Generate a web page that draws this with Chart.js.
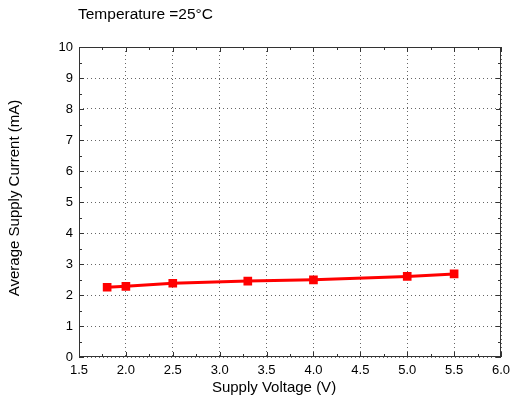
<!DOCTYPE html>
<html>
<head>
<meta charset="utf-8">
<script src="https://cdn.jsdelivr.net/npm/chart.js@4/dist/chart.umd.min.js"></script>
<style>
  html, body { margin: 0; padding: 0; background: #fff; }
  #wrap { width: 510px; height: 401px; }
</style>
</head>
<body>
<div id="wrap"><canvas id="myChart" width="510" height="401"></canvas></div>
<script>
// supply voltage (V) and average current (mA)
var voltages = [1.8, 2.0, 2.5, 3.3, 4.0, 5.0, 5.5];
var currents = [2.25, 2.28, 2.38, 2.45, 2.49, 2.60, 2.68];

var xTicks = [1.5, 2.0, 2.5, 3.0, 3.5, 4.0, 4.5, 5.0, 5.5, 6.0];
var yTicks = [0, 1, 2, 3, 4, 5, 6, 7, 8, 9, 10];

var titleText = 'Temperature =25\u00B0C';
var xTitle = 'Supply Voltage (V)';
var yTitle = 'Average Supply Current (mA)';

var font = 'Arial, "Liberation Sans", sans-serif';

// frame with inward major/minor ticks plus the text labels
var framePlugin = {
    id: 'frame',
    afterDatasetsDraw: function(chart) {
        var ctx = chart.ctx;
        var a = chart.chartArea;
        var xs = chart.scales.x, ys = chart.scales.y;
        ctx.save();
        ctx.strokeStyle = '#333';
        ctx.lineWidth = 1;
        ctx.strokeRect(a.left + 0.5, a.top + 0.5, a.right - a.left - 1, a.bottom - a.top - 1);
        ctx.beginPath();
        for (var i = 0; i < xTicks.length; i++) {
            var px = Math.round(xs.getPixelForValue(xTicks[i])) + 0.5;
            ctx.moveTo(px, a.bottom); ctx.lineTo(px, a.bottom - 5);
            ctx.moveTo(px, a.top); ctx.lineTo(px, a.top + 5);
            if (i < xTicks.length - 1) {
                var mx = Math.round(xs.getPixelForValue((xTicks[i] + xTicks[i + 1]) / 2)) + 0.5;
                ctx.moveTo(mx, a.bottom); ctx.lineTo(mx, a.bottom - 3);
                ctx.moveTo(mx, a.top); ctx.lineTo(mx, a.top + 3);
            }
        }
        for (var j = 0; j < yTicks.length; j++) {
            var py = Math.round(ys.getPixelForValue(yTicks[j])) + 0.5;
            ctx.moveTo(a.left, py); ctx.lineTo(a.left + 5, py);
            ctx.moveTo(a.right, py); ctx.lineTo(a.right - 5, py);
            if (j < yTicks.length - 1) {
                var my = Math.round(ys.getPixelForValue((yTicks[j] + yTicks[j + 1]) / 2)) + 0.5;
                ctx.moveTo(a.left, my); ctx.lineTo(a.left + 3, my);
                ctx.moveTo(a.right, my); ctx.lineTo(a.right - 3, my);
            }
        }
        ctx.stroke();

        ctx.fillStyle = '#000';
        ctx.textBaseline = 'middle';
        ctx.textAlign = 'left';
        ctx.font = '15.5px ' + font;
        ctx.fillText(titleText, 78, 15);
        ctx.font = '15px ' + font;
        ctx.textAlign = 'center';
        ctx.fillText(xTitle, 274, 388);
        ctx.translate(15, 198);
        ctx.rotate(-Math.PI / 2);
        ctx.fillText(yTitle, 0, 0);
        ctx.restore();
    }
};

var ctx = document.getElementById('myChart');
var myChart = new Chart(ctx, {
    type: 'line',
    data: {
        datasets: [{
            label: 'Current',
            data: voltages.map(function(v, i) { return { x: v, y: currents[i] }; }),
            borderColor: '#ff0000',
            backgroundColor: '#ff0000',
            borderWidth: 3,
            pointStyle: 'rect',
            pointRadius: 4,
            pointHoverRadius: 4,
            tension: 0
        }]
    },
    options: {
        responsive: false,
        animation: false,
        layout: { padding: { left: 59, right: 9, top: 47, bottom: 20 } },
        plugins: { legend: { display: false }, title: { display: false }, tooltip: { enabled: false } },
        scales: {
            x: {
                type: 'linear',
                min: 1.5, max: 6.0,
                afterBuildTicks: function(s) { s.ticks = xTicks.map(function(v) { return { value: v }; }); },
                afterFit: function(s) { s.height = 24; s.paddingRight = 0; s.paddingLeft = 0; },
                ticks: {
                    padding: 6,
                    color: '#000',
                    font: { size: 13, family: font },
                    maxRotation: 0,
                    callback: function(v) { return v.toFixed(1); }
                },
                grid: { color: '#666', drawTicks: false, lineWidth: 1 },
                border: { display: false, dash: [1, 3] }
            },
            y: {
                min: 0, max: 10,
                afterBuildTicks: function(s) { s.ticks = yTicks.map(function(v) { return { value: v }; }); },
                afterFit: function(s) { s.width = 20; s.paddingTop = 0; s.paddingBottom = 0; },
                ticks: {
                    padding: 6,
                    color: '#000',
                    font: { size: 13, family: font }
                },
                grid: { color: '#666', drawTicks: false, lineWidth: 1 },
                border: { display: false, dash: [1, 3] }
            }
        }
    },
    plugins: [framePlugin]
});
</script>
</body>
</html>
